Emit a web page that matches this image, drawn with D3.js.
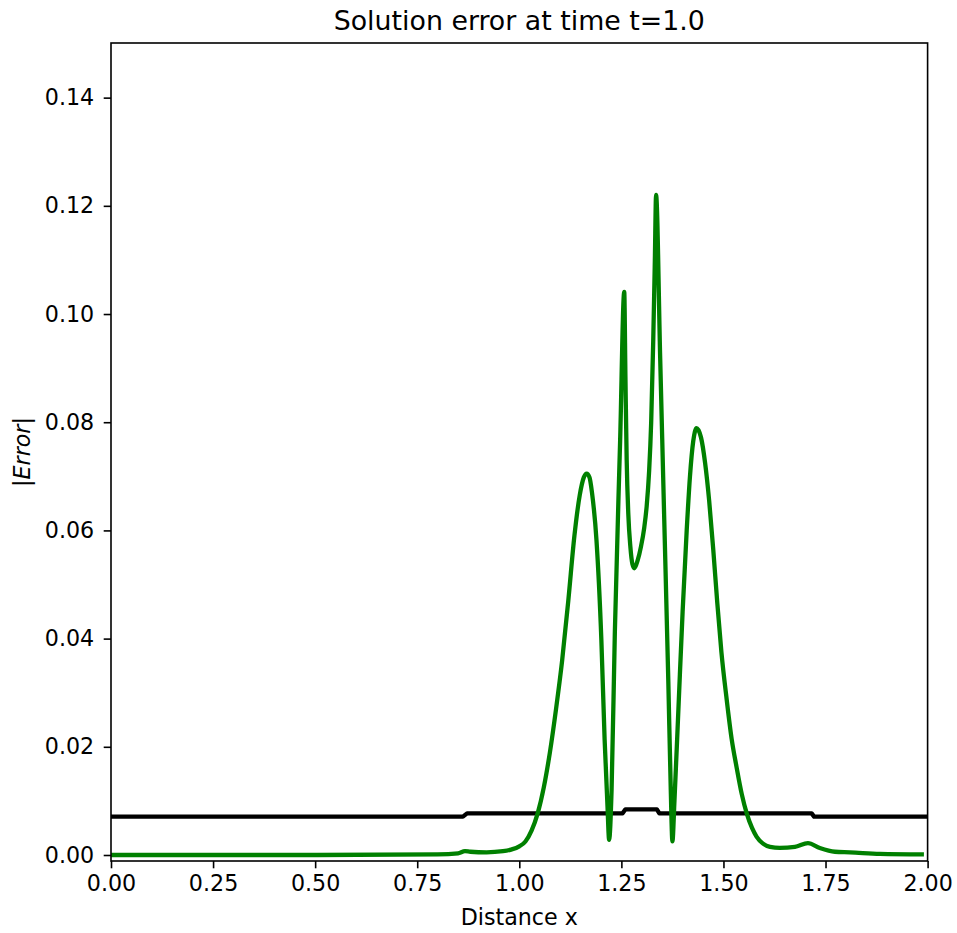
<!DOCTYPE html>
<html>
<head>
<meta charset="utf-8">
<script src="https://cdn.jsdelivr.net/npm/d3@7"></script>
<style>
  body { margin: 0; background: #fff; }
  svg { display: block; font-family: "DejaVu Sans", sans-serif; }
</style>
</head>
<body>
<svg id="chart" width="957" height="933"></svg>
<script>
// ---- data ----
const greenX = [0, 0.5, 0.80, 0.85, 0.867, 0.88, 0.92, 0.96, 0.98, 1.000, 1.015, 1.030, 1.045, 1.060, 1.075, 1.090,
  1.105, 1.120, 1.135, 1.148, 1.158, 1.165, 1.172, 1.178, 1.189, 1.201, 1.209, 1.216, 1.220, 1.226, 1.234, 1.247,
  1.257, 1.260, 1.263, 1.267, 1.272, 1.277, 1.282, 1.290, 1.298, 1.306, 1.312, 1.318, 1.323, 1.328, 1.332, 1.335,
  1.345, 1.355, 1.365, 1.371, 1.375, 1.380, 1.390, 1.400, 1.410, 1.418, 1.426, 1.434, 1.445, 1.455, 1.465, 1.475,
  1.485, 1.495, 1.508, 1.520, 1.532, 1.545, 1.557, 1.570, 1.581, 1.597, 1.614, 1.638, 1.675, 1.707, 1.736, 1.773,
  1.810, 1.883, 1.991];
const greenErr = [0, 0, 0.0001, 0.0003, 0.0007, 0.0006, 0.0005, 0.0007, 0.0010, 0.0016, 0.0025, 0.0045, 0.0077, 0.0125, 0.0190, 0.0270,
  0.0360, 0.0470, 0.0590, 0.0665, 0.0698, 0.0705, 0.0698, 0.0670, 0.0582, 0.0397, 0.0213, 0.0090, 0.0028, 0.0120, 0.0411, 0.0767,
  0.1041, 0.0880, 0.0730, 0.0630, 0.0570, 0.0538, 0.0530, 0.0545, 0.0570, 0.0605, 0.0645, 0.0710, 0.0800, 0.0950, 0.1100, 0.1220,
  0.0920, 0.0620, 0.0320, 0.0120, 0.0025, 0.0100, 0.0275, 0.0450, 0.0600, 0.0700, 0.0765, 0.0789, 0.0772, 0.0725, 0.0655, 0.0565,
  0.0465, 0.0375, 0.0287, 0.0215, 0.0163, 0.0112, 0.0077, 0.0050, 0.0034, 0.0021, 0.0015, 0.0013, 0.0015, 0.0022, 0.0013, 0.0006,
  0.0005, 0.0002, 0.0001];

const blackX = [0, 0.862, 0.872, 1.253, 1.260, 1.337, 1.343, 1.716, 1.722, 2.0];
const blackErr = [0.0071, 0.0071, 0.0077, 0.0077, 0.00845, 0.00845, 0.0077, 0.0077, 0.0071, 0.0071];

const xTicks = [0, 0.25, 0.5, 0.75, 1.0, 1.25, 1.5, 1.75, 2.0];
const yTicks = [0, 0.02, 0.04, 0.06, 0.08, 0.10, 0.12, 0.14];

const titleText = "Solution error at time t=1.0";
const xLabelText = "Distance x";

// ---- layout ----
const svg = d3.select("#chart");
const L = 111, R = 927.6, T = 43, B = 861;
const fs = 22.2;

const x = d3.scaleLinear().domain([0, 2]).range([L, R]);
const y = d3.scaleLinear().domain([-0.00111, 0.1501]).range([B, T]);

// lines
const line = d3.line().x(d => x(d[0])).y(d => y(d[1]));
const greenData = greenX.map((v, i) => [v, greenErr[i]]);
const blackData = blackX.map((v, i) => [v, blackErr[i]]);

svg.append("path").datum(blackData)
  .attr("d", line.curve(d3.curveLinear))
  .attr("fill", "none").attr("stroke", "#000").attr("stroke-width", 4.3)
  .attr("stroke-linejoin", "round").attr("stroke-linecap", "butt");

svg.append("path").datum(greenData)
  .attr("d", line.curve(d3.curveMonotoneX))
  .attr("fill", "none").attr("stroke", "#008000").attr("stroke-width", 4.3)
  .attr("stroke-linejoin", "round").attr("stroke-linecap", "butt");

// axes
const xAxis = d3.axisBottom(x).tickValues(xTicks).tickFormat(d3.format(".2f"))
  .tickSize(7.3).tickPadding(7);
const yAxis = d3.axisLeft(y).tickValues(yTicks).tickFormat(d3.format(".2f"))
  .tickSize(7.3).tickPadding(9.5);

const gx = svg.append("g").attr("transform", `translate(0,${B})`).call(xAxis);
const gy = svg.append("g").attr("transform", `translate(${L},0)`).call(yAxis);
[gx, gy].forEach(g => {
  g.select(".domain").remove();
  g.selectAll(".tick line").attr("stroke", "#000").attr("stroke-width", 1.6);
  g.selectAll(".tick text").attr("fill", "#000").style("font-size", fs + "px")
    .style("font-family", "DejaVu Sans");
});

// frame
svg.append("rect").attr("x", L).attr("y", T).attr("width", R - L).attr("height", B - T)
  .attr("fill", "none").attr("stroke", "#000").attr("stroke-width", 1.6);

// title
svg.append("text").attr("x", (L + R) / 2).attr("y", 30)
  .attr("text-anchor", "middle").style("font-size", "26.8px").text(titleText);

// x label
svg.append("text").attr("x", (L + R) / 2).attr("y", 925)
  .attr("text-anchor", "middle").style("font-size", fs + "px").text(xLabelText);

// y label  |Error| with italic Error
const yl = svg.append("text")
  .attr("transform", `translate(30,${(T + B) / 2}) rotate(-90)`)
  .attr("text-anchor", "middle").style("font-size", fs + "px");
yl.append("tspan").text("|");
yl.append("tspan").style("font-style", "italic").text("Error");
yl.append("tspan").text("|");
</script>
</body>
</html>
